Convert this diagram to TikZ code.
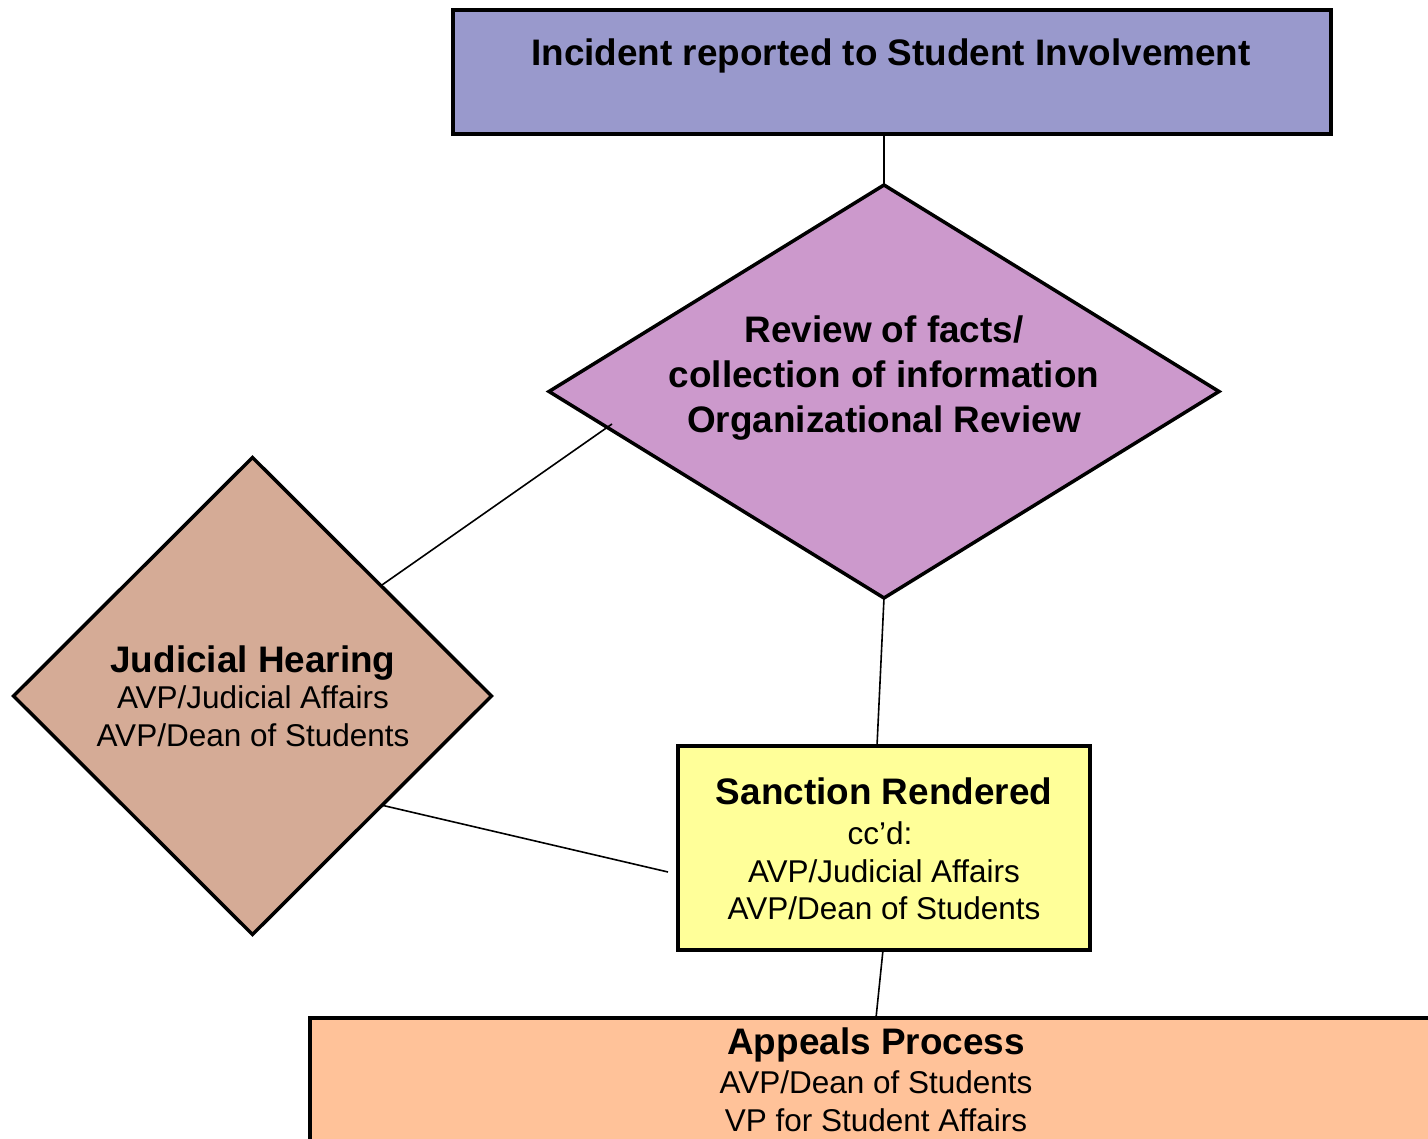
\documentclass[tikz,border=0pt]{standalone}
\usepackage{fontspec}
\setmainfont{Liberation Sans}
\usetikzlibrary{shapes.geometric,calc}
\definecolor{titlec}{HTML}{9999CC}
\definecolor{reviewc}{HTML}{CC99CC}
\definecolor{judc}{HTML}{D5AB96}
\definecolor{sancc}{HTML}{FFFF99}
\definecolor{appc}{HTML}{FFC299}
\tikzset{
  shapebox/.style={draw=black, line width=4pt, rectangle, inner sep=0pt, outer sep=0pt},
  shapedia/.style={draw=black, line width=3.5pt, diamond, inner sep=0pt, outer sep=0pt},
  conn/.style={draw=black, line width=1.6pt},
  headtxt/.style={anchor=base, inner sep=0pt, font=\bfseries\fontsize{36.9}{44}\selectfont},
  bodytxt/.style={anchor=base, inner sep=0pt, font=\fontsize{31.5}{38}\selectfont}
}
\begin{document}
\begin{tikzpicture}[x=1pt,y=-1pt]
\useasboundingbox (0,0) rectangle (1428,1139);
\clip (0,0) rectangle (1428,1139);
% shapes
\node[shapebox, fill=titlec, minimum width=878, minimum height=124] (incident) at (892,72) {};
\node[shapedia, fill=reviewc, minimum width=670, minimum height=413] (review) at (884,391.5) {};
\node[shapedia, fill=judc, minimum width=478, minimum height=477] (judicial) at (252.5,696) {};
\node[shapebox, fill=sancc, minimum width=412, minimum height=204] (sanction) at (884,848) {};
\node[shapebox, fill=appc, minimum width=1190, minimum height=182] (appeals) at (905,1109) {};
% connectors
\draw[conn] (review.north |- incident.south) -- (review.north);
\coordinate (revfree) at ($(review.west)+(63,32.5)$);
\draw[conn] (revfree) -- ($(judicial.north)!0.5375!(judicial.east)$);
\draw[conn] (review.south) -- ([xshift=-7pt]sanction.north);
\coordinate (sanfree) at ($(sanction.west)+(-10,24)$);
\draw[conn] ($(judicial.east)!0.458!(judicial.south)$) -- (sanfree);
\draw[conn] ([xshift=-1pt]sanction.south) -- ($(appeals.north west)+(566,0)$);
% texts
\node[headtxt] (t-incident) at (891,66) {Incident reported to Student Involvement};
\node[headtxt] (t-rev1) at (884,343) {Review of facts/};
\node[headtxt] (t-rev2) at (884,388) {collection of information};
\node[headtxt] (t-rev3) at (884,433) {Organizational Review};
\node[headtxt] (t-jud1) at (253,672) {Judicial Hearing};
\node[bodytxt] (t-jud2) at (253,708) {AVP/Judicial Affairs};
\node[bodytxt] (t-jud3) at (253,746) {AVP/Dean of Students};
\node[headtxt] (t-san1) at (884,804) {Sanction Rendered};
\node[bodytxt] (t-san2) at (880,844) {cc’d:};
\node[bodytxt] (t-san3) at (884,882) {AVP/Judicial Affairs};
\node[bodytxt] (t-san4) at (884,919) {AVP/Dean of Students};
\node[headtxt] (t-app1) at (876,1054) {Appeals Process};
\node[bodytxt] (t-app2) at (876,1093) {AVP/Dean of Students};
\node[bodytxt] (t-app3) at (876,1131) {VP for Student Affairs};
\end{tikzpicture}
\end{document}
